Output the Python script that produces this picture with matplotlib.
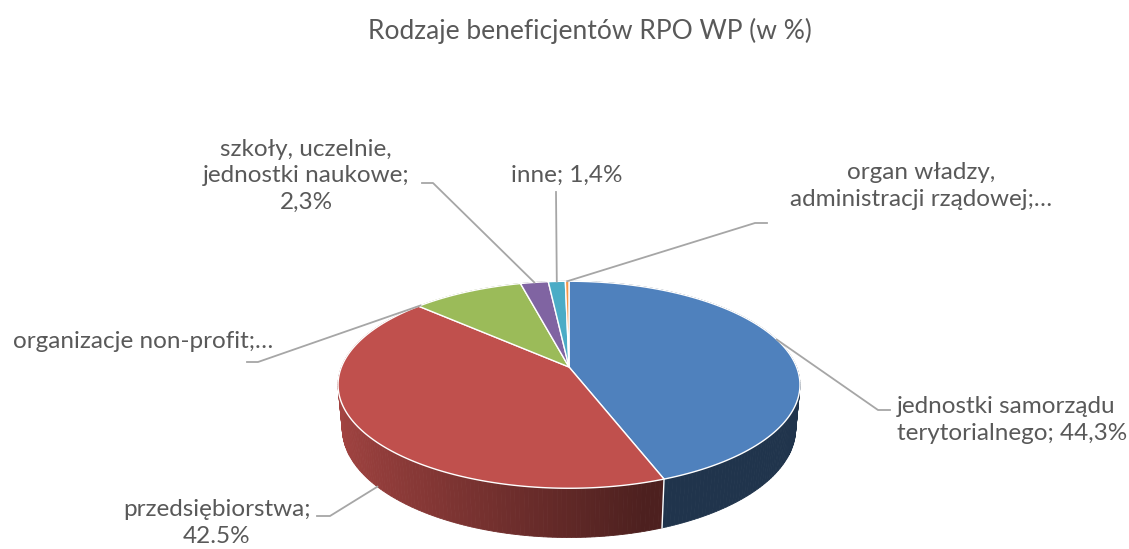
import matplotlib
matplotlib.use("Agg")
import matplotlib.pyplot as plt
import numpy as np
from matplotlib.patches import Polygon

plt.rcParams['font.family'] = ['Lato', 'DejaVu Sans']

# data
labels = ['jednostki samorządu\nterytorialnego; 44,3%',
          'przedsiębiorstwa;\n42.5%',
          'organizacje non-profit;…',
          'szkoły, uczelnie,\njednostki naukowe;\n2,3%',
          'inne; 1,4%',
          'organ władzy,\nadministracji rządowej;…']
values = [44.3, 42.5, 9.2, 2.3, 1.4, 0.3]
colors = ['#4F81BD', '#C0504D', '#9BBB59', '#8064A2', '#4BACC6', '#F79646']
title = 'Rodzaje beneficjentów RPO WP (w %)'

# label layout: text x, y, alignment, leader elbow, tick end x,
# anchor position within slice (fraction), anchor on top (0) or bottom (1)
label_pos = [(897, 420, 'left', (878, 410), 890, 0.46, 0),
             (217, 523, 'center', (330, 516), 317, 0.46, 1),
             (143, 341, 'center', (258, 362), 247, 0.02, 0),
             (306, 176, 'center', (433, 183), 422, 0.5, 0),
             (567, 175, 'center', (556, 192), 556, 0.5, 0),
             (921, 186, 'center', (755, 223), 767, 0.5, 0)]

# perspective camera
cx, cy = 569, 367
phi = np.radians(26.2)
D = 5.23
f = 1190
h = 0.215


def proj(theta, Y):
    X = np.sin(theta)
    Z = np.cos(theta)
    yv = Z * np.sin(phi) + Y * np.cos(phi)
    depth = D + Z * np.cos(phi) - Y * np.sin(phi)
    return cx + f * X / depth, cy - f * yv / depth


fig = plt.figure(figsize=(11.29, 5.49), dpi=100)
ax = fig.add_axes([0, 0, 1, 1])
ax.set_xlim(0, 1129)
ax.set_ylim(549, 0)
ax.axis('off')

fr = np.cumsum([0] + values) / sum(values) * 2 * np.pi
starts, ends = fr[:-1], fr[1:]

# side wall, back to front
quads = []
for i in range(len(values)):
    n = max(int((ends[i] - starts[i]) / np.radians(1)), 2)
    t = np.linspace(starts[i], ends[i], n + 1)
    for a, b in zip(t[:-1], t[1:]):
        mid = (a + b) / 2
        quads.append((-np.cos(mid), i, a, b, mid))
quads.sort(key=lambda q: -q[0])
for _, i, a, b, mid in quads:
    xa0, ya0 = proj(a, 0)
    xb0, yb0 = proj(b, 0)
    xa1, ya1 = proj(a, -h)
    xb1, yb1 = proj(b, -h)
    k = max(0.4, 0.5 - 0.35 * np.sin(mid))
    base = np.array(matplotlib.colors.to_rgb(colors[i]))
    c = np.clip(base * k, 0, 1)
    ax.add_patch(Polygon([(xa0, ya0), (xb0, yb0), (xb1, yb1), (xa1, ya1)],
                         closed=True, facecolor=c, edgecolor=c, lw=0.6))

# vertical white seams on the front wall
for s in starts:
    if np.cos(s) < -0.2:
        x0, y0 = proj(s, 0)
        x1, y1 = proj(s, -h)
        ax.plot([x0, x1], [y0, y1], color='white', lw=1)

# top face
for i in range(len(values)):
    t = np.linspace(starts[i], ends[i], 200)
    xs, ys = proj(t, 0)
    pts = [(cx, cy)] + list(zip(xs, ys))
    ax.add_patch(Polygon(pts, closed=True, facecolor=colors[i],
                         edgecolor='white', lw=1))

# labels and leader lines
for i, (tx, ty, ha, elbow, tick, frac, low) in enumerate(label_pos):
    ang = starts[i] + frac * (ends[i] - starts[i])
    px, py = proj(ang, -h * low)
    ex, ey = elbow
    ax.plot([px, ex, tick], [py, ey, ey], color='#A6A6A6', lw=1.3)
    ax.text(tx, ty, labels[i], ha=ha, va='center', fontsize=17.5,
            color='#595959', linespacing=1.3)

ax.text(590, 31, title, ha='center', va='center', fontsize=19,
        color='#595959')

fig.savefig('out.png', dpi=100)
